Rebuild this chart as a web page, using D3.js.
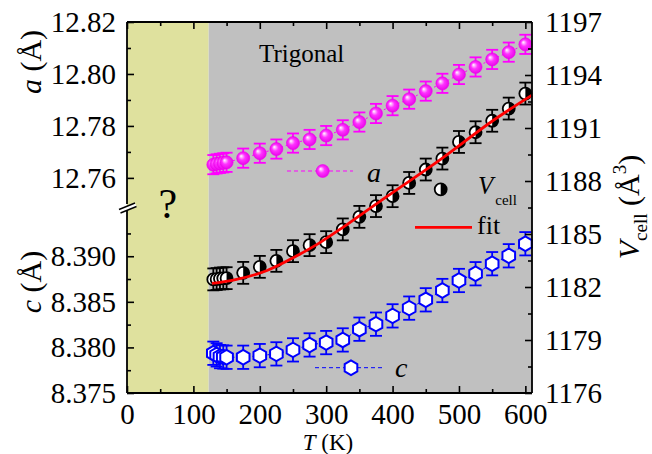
<!DOCTYPE html>
<html>
<head>
<meta charset="utf-8">
<script src="https://cdn.jsdelivr.net/npm/d3@7"></script>
<style>
  body { margin: 0; background: #fff; }
  svg { display: block; }
  text { font-family: "Liberation Serif", "Times New Roman", serif !important; }
</style>
</head>
<body>
<div id="vis"></div>
<script>

const FRAME_WIDTH = 652;
const FRAME_HEIGHT = 454;
const PLOT = {left: 127, right: 532, top: 22, bottom: 393, brk: 207};

// temperatures (K)
const temps = [130, 135, 140, 145, 150, 175, 200, 225, 250, 275, 300, 325, 350,
               375, 400, 425, 450, 475, 500, 525, 550, 575, 600];

// lattice a (Å)
const aVals = [12.7651, 12.7654, 12.7656, 12.7658, 12.7660, 12.7676, 12.7695, 12.7711,
               12.7734, 12.7748, 12.7763, 12.7785, 12.7815, 12.7848, 12.7878, 12.7903,
               12.7934, 12.7964, 12.7998, 12.8027, 12.8056, 12.8084, 12.8114];

// lattice c (Å)
const cVals = [8.37936, 8.37918, 8.37899, 8.37895, 8.37892, 8.37892, 8.37910, 8.37929,
               8.37973, 8.38027, 8.38053, 8.38082, 8.38200, 8.38255, 8.38346, 8.38431,
               8.38522, 8.38624, 8.38734, 8.38808, 8.38918, 8.39005, 8.39137];

// cell volume (Å^3)
const vVals = [1182.43, 1182.45, 1182.48, 1182.49, 1182.50, 1182.80, 1183.14, 1183.48,
               1184.03, 1184.37, 1184.54, 1185.26, 1185.97, 1186.58, 1187.14, 1187.89,
               1188.65, 1189.27, 1190.21, 1190.76, 1191.41, 1192.10, 1192.95];

const A_ERR = 0.0037;
const C_ERR = 0.00128;
const V_ERR = 0.62;

// fit curve for V
const fitT = [128, 160, 210, 255, 290, 323, 360, 400, 474, 552, 610];
const fitV = [1182.20, 1182.39, 1182.92, 1183.75, 1184.50, 1185.32, 1186.30, 1187.34,
              1189.27, 1191.44, 1192.86];

const xTicks = [0, 100, 200, 300, 400, 500, 600];
const aTicks = [12.76, 12.78, 12.80, 12.82];
const cTicks = [8.375, 8.380, 8.385, 8.390];
const vTicks = [1176, 1179, 1182, 1185, 1188, 1191, 1194, 1197];

const T_PHASE = 123;   // edge of the "?" region

const X_SCALE = d3.scaleLinear().domain([0, 610]).range([PLOT.left, PLOT.right]);
const A_SCALE = d3.scaleLinear().domain([12.7488, 12.82]).range([PLOT.brk, PLOT.top]);
const C_SCALE = d3.scaleLinear().domain([8.375, 8.3954]).range([PLOT.bottom, PLOT.brk]);
const V_SCALE = d3.scaleLinear().domain([1176, 1197]).range([PLOT.bottom, PLOT.top]);

const svg = d3.select("#vis")
              .append("svg")
                .attr("width", FRAME_WIDTH)
                .attr("height", FRAME_HEIGHT);

const defs = svg.append("defs");
const grad = defs.append("radialGradient")
                 .attr("id", "ball")
                 .attr("cx", "0.5").attr("cy", "0.5").attr("r", "0.55")
                 .attr("fx", "0.33").attr("fy", "0.33");
grad.append("stop").attr("offset", "0%").attr("stop-color", "#ffffff");
grad.append("stop").attr("offset", "45%").attr("stop-color", "#ff33ff");
grad.append("stop").attr("offset", "100%").attr("stop-color", "#e600e6");

// background regions
svg.append("rect")
   .attr("x", X_SCALE(0)).attr("y", PLOT.top)
   .attr("width", X_SCALE(T_PHASE) - X_SCALE(0))
   .attr("height", PLOT.bottom - PLOT.top)
   .attr("fill", "#dfe19e");
svg.append("rect")
   .attr("x", X_SCALE(T_PHASE)).attr("y", PLOT.top)
   .attr("width", X_SCALE(610) - X_SCALE(T_PHASE))
   .attr("height", PLOT.bottom - PLOT.top)
   .attr("fill", "#c0c0c0");

svg.append("text")
   .attr("x", 259).attr("y", 62)
   .attr("font-size", 25)
   .text("Trigonal");

svg.append("text")
   .attr("x", X_SCALE(T_PHASE / 2)).attr("y", 218)
   .attr("text-anchor", "middle")
   .attr("font-size", 42)
   .text("?");

// thin dotted connectors
const lineA = d3.line().x((d, i) => X_SCALE(temps[i])).y(d => A_SCALE(d));
const lineC = d3.line().x((d, i) => X_SCALE(temps[i])).y(d => C_SCALE(d));

svg.append("path").datum(aVals)
   .attr("d", lineA).attr("fill", "none")
   .attr("stroke", "#ff00ff").attr("stroke-width", 1).attr("stroke-dasharray", "2,3");
svg.append("path").datum(cVals)
   .attr("d", lineC).attr("fill", "none")
   .attr("stroke", "#0000ff").attr("stroke-width", 1).attr("stroke-dasharray", "2,3");

// error bars
function errorBars(vals, scale, err, color) {
  const g = svg.append("g").attr("stroke", color).attr("stroke-width", 1.8);
  vals.forEach((v, i) => {
    const x = X_SCALE(temps[i]);
    const y1 = scale(v - err), y2 = scale(v + err);
    g.append("line").attr("x1", x).attr("x2", x).attr("y1", y1).attr("y2", y2);
    g.append("line").attr("x1", x - 6).attr("x2", x + 6).attr("y1", y1).attr("y2", y1);
    g.append("line").attr("x1", x - 6).attr("x2", x + 6).attr("y1", y2).attr("y2", y2);
  });
}
errorBars(aVals, A_SCALE, A_ERR, "#ff00ff");
errorBars(vVals, V_SCALE, V_ERR, "#000000");
errorBars(cVals, C_SCALE, C_ERR, "#0000ff");

// markers
function ball(g, x, y) {
  g.append("circle").attr("cx", x).attr("cy", y).attr("r", 6.5)
   .attr("fill", "url(#ball)").attr("stroke", "#ee00ee").attr("stroke-width", 0.6);
}
function halfCircle(g, x, y) {
  const r = 6;
  g.append("circle").attr("cx", x).attr("cy", y).attr("r", r).attr("fill", "#fff");
  g.append("path")
   .attr("d", `M${x},${y - r} A${r},${r} 0 0 1 ${x},${y + r} Z`)
   .attr("fill", "#000");
  g.append("circle").attr("cx", x).attr("cy", y).attr("r", r)
   .attr("fill", "none").attr("stroke", "#000").attr("stroke-width", 1.8);
}
function hexagon(g, x, y) {
  const r = 7.3;
  const pts = d3.range(6).map(k => {
    const ang = Math.PI / 2 + k * Math.PI / 3;
    return [x + r * Math.cos(ang), y - r * Math.sin(ang)];
  });
  g.append("path").attr("d", "M" + pts.join("L") + "Z")
   .attr("fill", "#fff").attr("stroke", "#0000ff").attr("stroke-width", 2);
}

const gA = svg.append("g");
aVals.forEach((v, i) => ball(gA, X_SCALE(temps[i]), A_SCALE(v)));
const gV = svg.append("g");
vVals.forEach((v, i) => halfCircle(gV, X_SCALE(temps[i]), V_SCALE(v)));
const gC = svg.append("g");
cVals.forEach((v, i) => hexagon(gC, X_SCALE(temps[i]), C_SCALE(v)));

// fit
const fitLine = d3.line()
                  .x((d, i) => X_SCALE(fitT[i]))
                  .y(d => V_SCALE(d))
                  .curve(d3.curveMonotoneX);
svg.append("path").datum(fitV)
   .attr("d", fitLine).attr("fill", "none")
   .attr("stroke", "#ff0000").attr("stroke-width", 2.8);

// legend
const leg = svg.append("g");
leg.append("line").attr("x1", 287).attr("x2", 353).attr("y1", 171).attr("y2", 171)
   .attr("stroke", "#ff00ff").attr("stroke-width", 1).attr("stroke-dasharray", "4,3");
ball(leg, 322.7, 171);
leg.append("text").attr("x", 367).attr("y", 182).attr("font-size", 28)
   .attr("font-style", "italic").text("a");

halfCircle(leg, 440.7, 189.3);
const vt = leg.append("text").attr("x", 478).attr("y", 194).attr("font-size", 25);
vt.append("tspan").attr("font-style", "italic").text("V");
vt.append("tspan").attr("font-size", 15).attr("dy", 11).attr("dx", 2).text("cell");

leg.append("line").attr("x1", 415).attr("x2", 472).attr("y1", 227.3).attr("y2", 227.3)
   .attr("stroke", "#ff0000").attr("stroke-width", 2.8);
leg.append("text").attr("x", 477).attr("y", 234).attr("font-size", 26).text("fit");

leg.append("line").attr("x1", 315).attr("x2", 382).attr("y1", 367.7).attr("y2", 367.7)
   .attr("stroke", "#0000ff").attr("stroke-width", 1).attr("stroke-dasharray", "4,3");
hexagon(leg, 351, 367.7);
leg.append("text").attr("x", 395).attr("y", 377).attr("font-size", 28)
   .attr("font-style", "italic").text("c");

// axes
function styleAxis(g) {
  g.select(".domain").remove();
  g.selectAll(".tick line").attr("stroke", "#000").attr("stroke-width", 1.6);
  g.selectAll(".tick text").attr("font-size", 29).attr("fill", "#000");
}

const xMinor = d3.range(50, 601, 100);

svg.append("g")
   .attr("transform", `translate(0,${PLOT.bottom})`)
   .call(d3.axisBottom(X_SCALE).tickValues(xTicks).tickSizeInner(-7).tickSizeOuter(0).tickPadding(10))
   .call(styleAxis);
svg.append("g")
   .attr("transform", `translate(0,${PLOT.bottom})`)
   .call(d3.axisBottom(X_SCALE).tickValues(xMinor).tickSizeInner(-4).tickSizeOuter(0).tickFormat(""))
   .call(styleAxis);
svg.append("g")
   .attr("transform", `translate(0,${PLOT.top})`)
   .call(d3.axisTop(X_SCALE).tickValues(xTicks).tickSizeInner(-7).tickSizeOuter(0).tickFormat(""))
   .call(styleAxis);
svg.append("g")
   .attr("transform", `translate(0,${PLOT.top})`)
   .call(d3.axisTop(X_SCALE).tickValues(xMinor).tickSizeInner(-4).tickSizeOuter(0).tickFormat(""))
   .call(styleAxis);

svg.append("g")
   .attr("transform", `translate(${PLOT.left},0)`)
   .call(d3.axisLeft(A_SCALE).tickValues(aTicks).tickSizeInner(-7).tickSizeOuter(0)
           .tickPadding(11).tickFormat(d3.format(".2f")))
   .call(styleAxis);
svg.append("g")
   .attr("transform", `translate(${PLOT.left},0)`)
   .call(d3.axisLeft(A_SCALE).tickValues([12.77, 12.79, 12.81]).tickSizeInner(-4)
           .tickSizeOuter(0).tickFormat(""))
   .call(styleAxis);
svg.append("g")
   .attr("transform", `translate(${PLOT.left},0)`)
   .call(d3.axisLeft(C_SCALE).tickValues(cTicks).tickSizeInner(-7).tickSizeOuter(0)
           .tickPadding(11).tickFormat(d3.format(".3f")))
   .call(styleAxis);
svg.append("g")
   .attr("transform", `translate(${PLOT.left},0)`)
   .call(d3.axisLeft(C_SCALE).tickValues([8.3775, 8.3825, 8.3875, 8.3925]).tickSizeInner(-4)
           .tickSizeOuter(0).tickFormat(""))
   .call(styleAxis);

svg.append("g")
   .attr("transform", `translate(${PLOT.right},0)`)
   .call(d3.axisRight(V_SCALE).tickValues(vTicks).tickSizeInner(-7).tickSizeOuter(0)
           .tickPadding(13).tickFormat(d3.format("d")))
   .call(styleAxis);
svg.append("g")
   .attr("transform", `translate(${PLOT.right},0)`)
   .call(d3.axisRight(V_SCALE).tickValues(d3.range(1177.5, 1197, 3)).tickSizeInner(-4)
           .tickSizeOuter(0).tickFormat(""))
   .call(styleAxis);

// frame
const frame = svg.append("g").attr("stroke", "#000").attr("stroke-width", 1.8).attr("fill", "none");
frame.append("line").attr("x1", PLOT.left).attr("x2", PLOT.right).attr("y1", PLOT.top).attr("y2", PLOT.top);
frame.append("line").attr("x1", PLOT.left).attr("x2", PLOT.right).attr("y1", PLOT.bottom).attr("y2", PLOT.bottom);
frame.append("line").attr("x1", PLOT.right).attr("x2", PLOT.right).attr("y1", PLOT.top).attr("y2", PLOT.bottom);
frame.append("line").attr("x1", PLOT.left).attr("x2", PLOT.left).attr("y1", PLOT.top).attr("y2", PLOT.brk - 3);
frame.append("line").attr("x1", PLOT.left).attr("x2", PLOT.left).attr("y1", PLOT.brk + 3).attr("y2", PLOT.bottom);

// axis break mark
svg.append("path")
   .attr("d", `M119,${PLOT.brk + 2.5} L135,${PLOT.brk - 4} L136.5,${PLOT.brk - 0.5} L120.5,${PLOT.brk + 6} Z`)
   .attr("fill", "#fff");
svg.append("line").attr("x1", 119).attr("y1", PLOT.brk + 2.5).attr("x2", 135).attr("y2", PLOT.brk - 4)
   .attr("stroke", "#000").attr("stroke-width", 1.4);
svg.append("line").attr("x1", 120.5).attr("y1", PLOT.brk + 6).attr("x2", 136.5).attr("y2", PLOT.brk - 0.5)
   .attr("stroke", "#000").attr("stroke-width", 1.4);

// axis titles
const ta = svg.append("text")
              .attr("transform", "translate(41,62) rotate(-90)")
              .attr("text-anchor", "middle").attr("font-size", 30);
ta.append("tspan").attr("font-style", "italic").text("a");
ta.append("tspan").text(" (Å)");

const tc = svg.append("text")
              .attr("transform", "translate(41,282) rotate(-90)")
              .attr("text-anchor", "middle").attr("font-size", 30);
tc.append("tspan").attr("font-style", "italic").text("c");
tc.append("tspan").text(" (Å)");

const tt = svg.append("text")
              .attr("x", 328).attr("y", 450)
              .attr("text-anchor", "middle").attr("font-size", 23);
tt.append("tspan").attr("font-style", "italic").text("T");
tt.append("tspan").text(" (K)");

const tv = svg.append("text")
              .attr("transform", "translate(639,207) rotate(-90)")
              .attr("text-anchor", "middle").attr("font-size", 30);
tv.append("tspan").attr("font-style", "italic").text("V");
tv.append("tspan").attr("font-size", 19).attr("dy", 8).text("cell");
tv.append("tspan").attr("dy", -8).text(" (Å");
tv.append("tspan").attr("font-size", 19).attr("dy", -13).text("3");
tv.append("tspan").attr("dy", 13).text(")");

</script>
</body>
</html>
